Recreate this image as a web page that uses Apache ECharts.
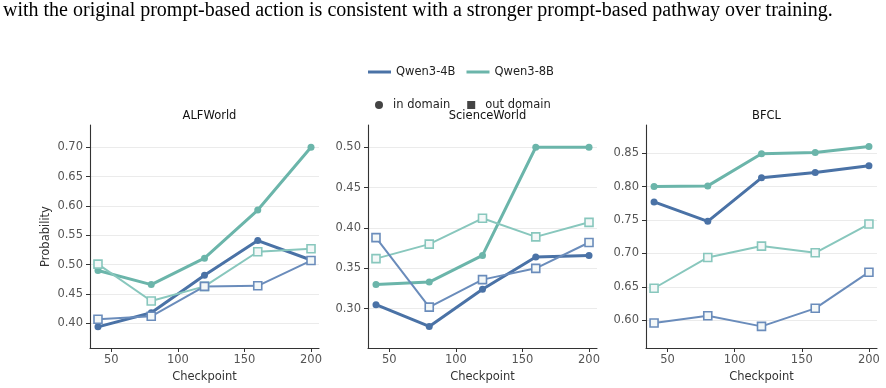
<!DOCTYPE html>
<html>
<head>
<meta charset="utf-8">
<script src="https://cdn.jsdelivr.net/npm/echarts@6/dist/echarts.min.js"></script>
<style>
html, body { margin: 0; padding: 0; background: #fff; }
#chart { width: 886px; height: 388px; }
</style>
</head>
<body>
<div id="chart"></div>
<script>
// data
const caption = 'with the original prompt-based action is consistent with a stronger prompt-based pathway over training.';
const checkpoints = [40, 80, 120, 160, 200];
const xTicks = [50, 100, 150, 200];
const panelNames = ['ALFWorld', 'ScienceWorld', 'BFCL'];

const alfQwen4bIn  = [0.394, 0.418, 0.482, 0.541, 0.508];
const alfQwen8bIn  = [0.490, 0.466, 0.511, 0.593, 0.700];
const alfQwen4bOut = [0.407, 0.412, 0.463, 0.464, 0.507];
const alfQwen8bOut = [0.501, 0.438, 0.463, 0.522, 0.527];

const sciQwen4bIn  = [0.305, 0.278, 0.324, 0.364, 0.366];
const sciQwen8bIn  = [0.330, 0.333, 0.366, 0.500, 0.500];
const sciQwen4bOut = [0.388, 0.302, 0.336, 0.350, 0.382];
const sciQwen8bOut = [0.362, 0.380, 0.412, 0.389, 0.407];

const bfclQwen4bIn  = [0.777, 0.748, 0.813, 0.821, 0.831];
const bfclQwen8bIn  = [0.800, 0.801, 0.849, 0.851, 0.860];
const bfclQwen4bOut = [0.596, 0.607, 0.591, 0.618, 0.672];
const bfclQwen8bOut = [0.648, 0.694, 0.711, 0.701, 0.744];

const alfYTicks  = [0.40, 0.45, 0.50, 0.55, 0.60, 0.65, 0.70];
const sciYTicks  = [0.30, 0.35, 0.40, 0.45, 0.50];
const bfclYTicks = [0.60, 0.65, 0.70, 0.75, 0.80, 0.85];

const alfYRange  = [0.358, 0.738];
const sciYRange  = [0.2513, 0.5276];
const bfclYRange = [0.5587, 0.892];

// layout
const font = 'DejaVu Sans';
const fs = 11.5;
const blue = '#4a72a6', teal = '#6bb5aa';
const blueOut = '#6a8cbb', tealOut = '#88c7bd';
const grids = [
    { left: 90, top: 125, width: 229, height: 223 },
    { left: 368, top: 125, width: 229, height: 223 },
    { left: 646, top: 125, width: 231, height: 223 },
];

const panelData = [
    [alfQwen4bIn, alfQwen8bIn, alfQwen4bOut, alfQwen8bOut],
    [sciQwen4bIn, sciQwen8bIn, sciQwen4bOut, sciQwen8bOut],
    [bfclQwen4bIn, bfclQwen8bIn, bfclQwen4bOut, bfclQwen8bOut],
];
const yTicks = [alfYTicks, sciYTicks, bfclYTicks];
const yRanges = [alfYRange, sciYRange, bfclYRange];

const axisLine = { show: true, lineStyle: { color: '#333', width: 1.1 } };
const axisTick = (vals) => ({ show: true, length: 4, customValues: vals, lineStyle: { color: '#333' } });

const xAxes = [], yAxes = [], series = [], titles = [];

titles.push({
    text: caption, left: -2, top: -4,
    textStyle: { fontFamily: 'Liberation Serif', fontSize: 20, fontWeight: 'normal', color: '#000' }
});

grids.forEach((g, i) => {
    titles.push({
        text: panelNames[i], left: g.left + g.width / 2, top: 105, textAlign: 'center',
        textStyle: { fontFamily: font, fontSize: fs, fontWeight: 'normal', color: '#111' }
    });
    xAxes.push({
        type: 'value', gridIndex: i, min: 34, max: 206,
        name: 'Checkpoint', nameLocation: 'middle', nameGap: 21,
        nameTextStyle: { fontFamily: font, fontSize: fs, color: '#333' },
        axisLine: axisLine, axisTick: axisTick(xTicks),
        axisLabel: { customValues: xTicks, margin: 6, fontFamily: font, fontSize: fs, color: '#555' },
        splitLine: { show: false },
    });
    yAxes.push({
        type: 'value', gridIndex: i, min: yRanges[i][0], max: yRanges[i][1],
        name: i === 0 ? 'Probability' : '', nameLocation: 'middle', nameGap: 38,
        nameTextStyle: { fontFamily: font, fontSize: fs, color: '#333' },
        axisLine: axisLine, axisTick: axisTick(yTicks[i]),
        axisLabel: {
            customValues: yTicks[i], margin: 7, fontFamily: font, fontSize: fs, color: '#555',
            formatter: (v) => v.toFixed(2)
        },
        splitLine: { show: true, lineStyle: { color: '#ebebeb', width: 1 } },
    });

    const [m4In, m8In, m4Out, m8Out] = panelData[i];
    const mk = (vals, color, width, symbol, size, hollow) => ({
        type: 'line', xAxisIndex: i, yAxisIndex: i,
        data: checkpoints.map((c, k) => [c, vals[k]]),
        symbol: symbol, symbolSize: size, showSymbol: true,
        lineStyle: { color: color, width: width },
        itemStyle: hollow
            ? { color: '#f4f8f8', borderColor: color, borderWidth: 1.6 }
            : { color: color, borderWidth: 0 },
        emphasis: { disabled: true },
        animation: false,
    });
    series.push(mk(m8In, teal, 3, 'circle', 7, false));
    series.push(mk(m4In, blue, 3, 'circle', 7, false));
    series.push(mk(m8Out, tealOut, 2, 'rect', 8, true));
    series.push(mk(m4Out, blueOut, 2, 'rect', 8, true));
});

// legend-only series
series.push({ name: 'Qwen3-4B', type: 'line', data: [], itemStyle: { color: blue } });
series.push({ name: 'Qwen3-8B', type: 'line', data: [], itemStyle: { color: teal } });
series.push({ name: 'in domain', type: 'line', data: [], itemStyle: { color: '#444' } });
series.push({ name: 'out domain', type: 'line', data: [], itemStyle: { color: '#444' } });

const chart = echarts.init(document.getElementById('chart'));
chart.setOption({
    backgroundColor: '#fff',
    animation: false,
    title: titles,
    grid: grids,
    xAxis: xAxes,
    yAxis: yAxes,
    legend: [
        {
            left: 363, top: 61, itemGap: 11, selectedMode: false,
            icon: 'rect', itemWidth: 23, itemHeight: 3,
            data: ['Qwen3-4B', 'Qwen3-8B'],
            textStyle: { fontFamily: font, fontSize: fs, color: '#222' }
        },
        {
            left: 370, top: 94, itemGap: 17, selectedMode: false,
            itemWidth: 8, itemHeight: 8,
            data: [{ name: 'in domain', icon: 'circle' }, { name: 'out domain', icon: 'rect' }],
            textStyle: { fontFamily: font, fontSize: fs, color: '#222', padding: [0, 0, 0, 5] }
        }
    ],
    series: series,
});
</script>
</body>
</html>
